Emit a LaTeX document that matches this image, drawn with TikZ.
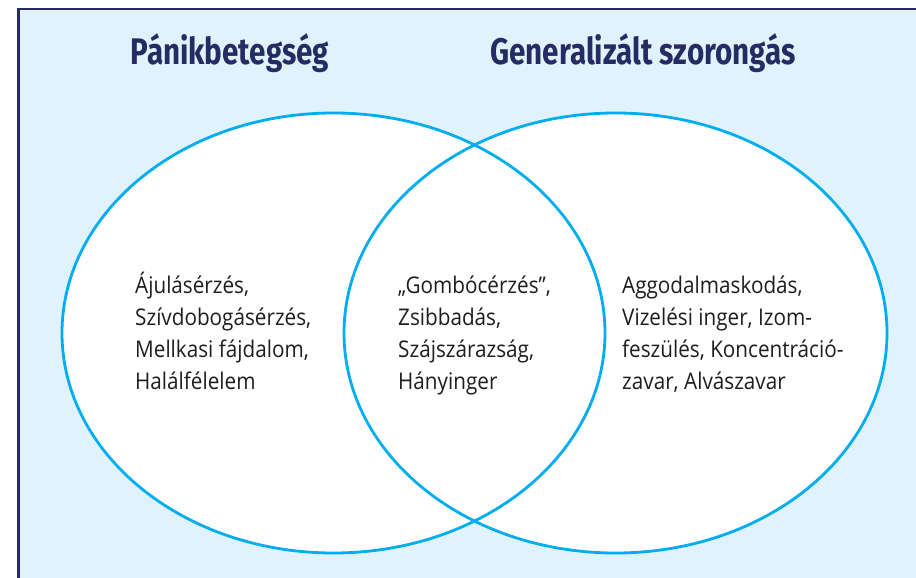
\documentclass[tikz,border=0pt]{standalone}
\usepackage{fontspec}
\setmainfont{Open Sans}
\newfontfamily\titlefont[FakeStretch=0.8]{Fira Sans}
\newfontfamily\bodyfont[FakeStretch=0.9]{Open Sans}
\definecolor{bgblue}{HTML}{E0F2FC}
\definecolor{navy}{HTML}{262B63}
\definecolor{vennline}{HTML}{00AEEF}
\definecolor{bodytext}{HTML}{1E1E1E}
\begin{document}
\begin{tikzpicture}[x=1pt,y=-1pt,
  titletext/.style={anchor=base, inner sep=0pt, text=navy, font=\titlefont\bfseries\fontsize{37}{40}\selectfont},
  itemtext/.style={anchor=base west, inner sep=0pt, align=left, text=bodytext, font=\bodyfont\fontsize{23}{32}\selectfont},
  vennfill/.style={fill=white},
  venndraw/.style={draw=vennline, line width=2.8pt}]
\useasboundingbox (0,0) rectangle (916,578);
\fill[bgblue] (18.5,9) rectangle (916,578);
\draw[navy, line width=2.5pt] (18.5,578) -- (18.5,9) -- (916,9);
\fill[vennfill] (333.5,333) ellipse [x radius=271.5, y radius=220];
\fill[vennfill] (615.5,333) ellipse [x radius=271.5, y radius=220];
\draw[venndraw] (333.5,333) ellipse [x radius=271.5, y radius=220];
\draw[venndraw] (615.5,333) ellipse [x radius=271.5, y radius=220];
\node[titletext] (t1) at (230,65) {Pánikbetegség};
\node[titletext] (t2) at (643,65) {Generalizált szorongás};
\node[itemtext] (l) at (135,389) {Ájulásérzés,\\Szívdobogásérzés,\\Mellkasi fájdalom,\\Halálfélelem};
\node[itemtext] (m) at (398,389) {„Gombócérzés”,\\Zsibbadás,\\Szájszárazság,\\Hányinger};
\node[itemtext] (r) at (622,389) {Aggodalmaskodás,\\Vizelési inger, Izom-\\feszülés, Koncentráció-\\zavar, Alvászavar};
\end{tikzpicture}
\end{document}
